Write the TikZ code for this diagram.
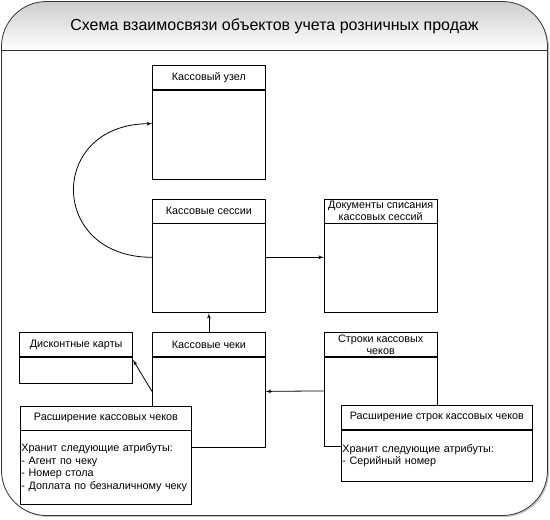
\documentclass[tikz,border=0pt]{standalone}
\usepackage{fontspec}
\setmainfont{Liberation Sans}
\usetikzlibrary{arrows}
\usetikzlibrary{positioning}

\begin{document}
\begin{tikzpicture}[x=1pt,y=-1pt,->,>=latex',line width=0.8pt,
  head/.style={draw,fill=white,minimum width=113pt,minimum height=24pt,inner sep=0.5pt,
    align=center,font=\fontsize{10.8}{11.5}\selectfont},
  body/.style={draw,fill=white,minimum width=113pt,minimum height=89pt,inner sep=0pt},
  note/.style={body,align=left,inner xsep=1pt,font=\fontsize{10.8}{12.7}\selectfont}]

  \useasboundingbox (0,0) rectangle (550,520);

  % frame with title band
  \fill[gray!45,rounded corners=45pt] (3,3) rectangle (549,517);
  \fill[white,rounded corners=45pt] (1.5,1.5) rectangle (547.5,515.5);
  \begin{scope}
    \clip[rounded corners=45pt] (1.5,1.5) rectangle (547.5,515.5);
    \shade[top color=gray!40,bottom color=white] (0,0) rectangle (550,50);
  \end{scope}
  \draw[-,black!80,rounded corners=45pt] (1.5,1.5) rectangle (547.5,515.5);
  \draw[-,black!80] (1.5,50) -- (547.5,50);
  \node[font=\fontsize{16}{19}\selectfont] (title) at (274.5,26) {Схема взаимосвязи объектов учета розничных продаж};

  \node[head,anchor=north west] (uzel) at (152,65) {Кассовый узел};
  \node[body] (uzelb) [below=0pt of uzel] {};
  \node[head] (sess) [below=19pt of uzelb] {Кассовые сессии};
  \node[body] (sessb) [below=0pt of sess] {};
  \node[head] (docs) [right=58pt of sess] {Документы списания\\кассовых сессий};
  \node[body] (docsb) [below=0pt of docs] {};
  \node[head] (cheki) [below=19pt of sessb] {Кассовые чеки};
  \node[body,minimum height=90pt] (chekib) [below=0pt of cheki] {};
  \node[head] (stroki) [right=58pt of cheki] {Строки кассовых\\чеков};
  \node[body] (strokib) [below=0pt of stroki] {};
  \node[head] (disc) [left=19pt of cheki] {Дисконтные карты};
  \node[body,minimum height=26pt] (discb) [below=0pt of disc] {};

  % extensions
  \node[head,anchor=north west,minimum width=171pt] (ext1) at (20,405.5) {Расширение кассовых чеков};
  \node[note,minimum width=171pt,minimum height=74pt,text width=169pt] (ext1b) [below=0pt of ext1]
    {Хранит следующие атрибуты:\\- Агент по чеку\\- Номер стола\\- Доплата по безналичному чеку};
  \node[head,anchor=north west,minimum width=191pt] (ext2) at (341,405) {Расширение строк кассовых чеков};
  \node[note,minimum width=191pt,minimum height=51pt,text width=189pt] (ext2b) [below=0pt of ext2]
    {Хранит следующие атрибуты:\\- Серийный номер};

  \path ([yshift=11pt]sessb.east) edge ([yshift=11pt]docsb.west)
        ([yshift=11pt]strokib.west) edge ([yshift=11pt]chekib.east)
        (cheki.north) edge (sessb.south)
        ([yshift=11pt]chekib.west) edge ([yshift=-3pt]discb.north east)
        ([yshift=11pt]sessb.west) edge[out=180,in=180,looseness=2] ([yshift=11pt]uzelb.west);
\end{tikzpicture}
\end{document}
